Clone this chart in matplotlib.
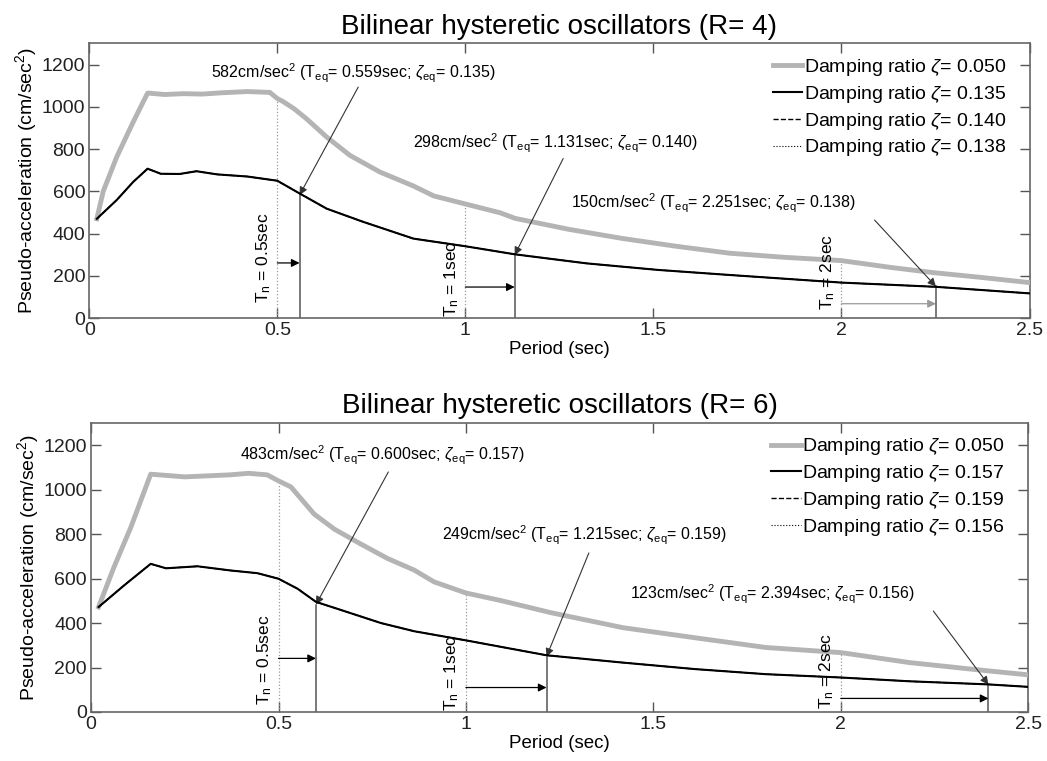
import numpy as np
import matplotlib
matplotlib.use('Agg')
import matplotlib.pyplot as plt

plt.rcParams['font.family'] = ['Liberation Sans', 'DejaVu Sans']
plt.rcParams['mathtext.fontset'] = 'custom'
plt.rcParams['mathtext.rm'] = 'Liberation Sans'
plt.rcParams['mathtext.it'] = 'Liberation Sans:italic'
plt.rcParams['mathtext.bf'] = 'Liberation Sans:bold'

# R = 4 spectra
r4_gray_T = [0.02, 0.037, 0.073, 0.117, 0.155, 0.20, 0.25, 0.30, 0.35, 0.42, 0.48, 0.50, 0.515, 0.545,
             0.577, 0.631, 0.693, 0.773, 0.862, 0.916, 1.0, 1.093, 1.132, 1.275, 1.417, 1.56, 1.703,
             1.845, 2.0, 2.13, 2.245, 2.369, 2.5]
r4_gray_sa = [470, 600, 763, 929, 1065, 1058, 1062, 1060, 1066, 1072, 1068, 1039, 1025, 990,
              944, 857, 770, 691, 625, 578, 540, 498, 472, 420, 377, 340, 307,
              288, 272, 240, 215, 193, 168]
r4_black_T = [0.02, 0.073, 0.117, 0.155, 0.19, 0.24, 0.285, 0.34, 0.42, 0.5, 0.559, 0.631, 0.729,
              0.862, 1.0, 1.093, 1.131, 1.322, 1.512, 1.703, 2.0, 2.251, 2.5]
r4_black_sa = [470, 559, 645, 707, 683, 682, 695, 680, 670, 650, 590, 518, 455,
               376, 340, 313, 302, 259, 228, 204, 168, 148, 117]
r4_zetas = ['0.050', '0.135', '0.140', '0.138']

# R = 6 spectra
r6_gray_T = [0.02, 0.061, 0.106, 0.159, 0.25, 0.37, 0.42, 0.47, 0.50, 0.533, 0.595, 0.649, 0.711,
             0.791, 0.862, 0.915, 1.0, 1.093, 1.228, 1.419, 1.61, 1.8, 2.0, 2.184, 2.375, 2.5]
r6_gray_sa = [472, 651, 830, 1069, 1057, 1066, 1073, 1066, 1039, 1012, 890, 822, 763,
              690, 638, 585, 535, 501, 446, 379, 334, 290, 267, 222, 188, 167]
r6_black_T = [0.02, 0.088, 0.159, 0.2, 0.284, 0.373, 0.444, 0.5, 0.551, 0.6, 0.684, 0.773, 0.862,
              1.0, 1.093, 1.215, 1.419, 1.61, 1.8, 2.0, 2.184, 2.394, 2.5]
r6_black_sa = [472, 569, 666, 646, 655, 636, 624, 599, 554, 495, 449, 400, 363,
               322, 293, 255, 222, 193, 170, 155, 138, 124, 113]
r6_zetas = ['0.050', '0.157', '0.159', '0.156']

# equivalent linear points
Tn = [0.5, 1.0, 2.0]
r4_Teq = [0.559, 1.131, 2.251]
r4_Sa = [582, 298, 150]
r4_zeq = ['0.135', '0.140', '0.138']
r6_Teq = [0.600, 1.215, 2.394]
r6_Sa = [483, 249, 123]
r6_zeq = ['0.157', '0.159', '0.156']

# label / arrow placement (data coords)
r4_text_xy = [(0.323, 1156), (0.862, 825), (1.282, 542)]
r4_tail_xy = [(0.715, 1093), (1.26, 755), (2.088, 464)]
r4_harrow_y = [261, 147, 68]
r4_tn_y = [71, 3, 40]
r6_text_xy = [(0.398, 1154), (0.936, 795), (1.438, 528)]
r6_tail_xy = [(0.793, 1079), (1.328, 715), (2.247, 454)]
r6_harrow_y = [241, 110, 61]
r6_tn_y = [30, 3, 12]

gray = '#b4b4b4'


def draw_panel(ax, R, gT, gSa, bT, bSa, zetas, Teq, Sa, zeq, text_xy, tail_xy, harrow_y, tn_y):
    ax.plot(gT, gSa, color=gray, lw=3.5, label='Damping ratio $\\zeta$= ' + zetas[0], zorder=3)
    ax.plot(bT, bSa, color='k', lw=1.5, label='Damping ratio $\\zeta$= ' + zetas[1], zorder=4)
    ax.plot(bT, bSa, color='k', lw=1.0, ls='--', label='Damping ratio $\\zeta$= ' + zetas[2], zorder=4)
    ax.plot(bT, bSa, color='k', lw=0.8, ls=':', label='Damping ratio $\\zeta$= ' + zetas[3], zorder=4)

    for i in range(3):
        # dotted line at Tn up to the 5% curve
        ax.plot([Tn[i], Tn[i]], [0, np.interp(Tn[i], gT, gSa)], color='#999999', lw=0.9, ls=':', zorder=2)
        # solid line at Teq
        ax.plot([Teq[i], Teq[i]], [0, Sa[i]], color='#555555', lw=1.1, zorder=2)
        # Tn -> Teq arrow
        hcol = '#999999' if i == 2 and R == 4 else 'k'
        ax.annotate('', xy=(Teq[i], harrow_y[i]), xytext=(Tn[i], harrow_y[i]),
                    arrowprops=dict(arrowstyle='-|>', color=hcol, lw=0.9, mutation_scale=12,
                                    shrinkA=0, shrinkB=0))
        ax.text(Tn[i] - 0.012, tn_y[i], 'T$_\\mathrm{n}$ = %gsec' % Tn[i], rotation=90,
                ha='right', va='bottom', fontsize=12.5)
        label = '%dcm/sec$^2$ (T$_\\mathrm{eq}$= %.3fsec; $\\zeta_\\mathrm{eq}$= %s)' % (Sa[i], Teq[i], zeq[i])
        ax.text(text_xy[i][0], text_xy[i][1], label, ha='left', va='center', fontsize=11.5)
        ax.annotate('', xy=(Teq[i], Sa[i]), xytext=tail_xy[i],
                    arrowprops=dict(arrowstyle='-|>', color='#333333', lw=0.8, mutation_scale=12,
                                    shrinkA=0, shrinkB=0))

    ax.set_xlim(0, 2.5)
    ax.set_ylim(0, 1300)
    ax.set_xticks([0, 0.5, 1, 1.5, 2, 2.5])
    ax.set_xticklabels(['0', '0.5', '1', '1.5', '2', '2.5'])
    ax.set_yticks(range(0, 1201, 200))
    ax.tick_params(direction='in', top=True, right=True, length=7, width=1, color='#555555',
                   labelsize=14, labelcolor='#222222', pad=3)
    for s in ax.spines.values():
        s.set_color('#666666')
        s.set_linewidth(1.2)
    ax.set_xlabel('Period (sec)', fontsize=13.5, labelpad=1)
    ax.set_ylabel('Pseudo-acceleration (cm/sec$^2$)', fontsize=14, labelpad=2)
    ax.set_title('Bilinear hysteretic oscillators (R= %d)' % R, fontsize=20, pad=7)
    ax.legend(loc='upper right', bbox_to_anchor=(0.99, 1.0), frameon=False, fontsize=14,
              handlelength=1.5, handletextpad=0.1, labelspacing=0.3, borderaxespad=0.3)


fig = plt.figure(figsize=(10.47, 7.61), dpi=100)
ax1 = fig.add_axes([0.0853, 0.582, 0.898, 0.361])
ax2 = fig.add_axes([0.087, 0.0644, 0.895, 0.380])

draw_panel(ax1, 4, r4_gray_T, r4_gray_sa, r4_black_T, r4_black_sa, r4_zetas, r4_Teq, r4_Sa, r4_zeq,
           r4_text_xy, r4_tail_xy, r4_harrow_y, r4_tn_y)
draw_panel(ax2, 6, r6_gray_T, r6_gray_sa, r6_black_T, r6_black_sa, r6_zetas, r6_Teq, r6_Sa, r6_zeq,
           r6_text_xy, r6_tail_xy, r6_harrow_y, r6_tn_y)

fig.savefig('out.png', dpi=100)
